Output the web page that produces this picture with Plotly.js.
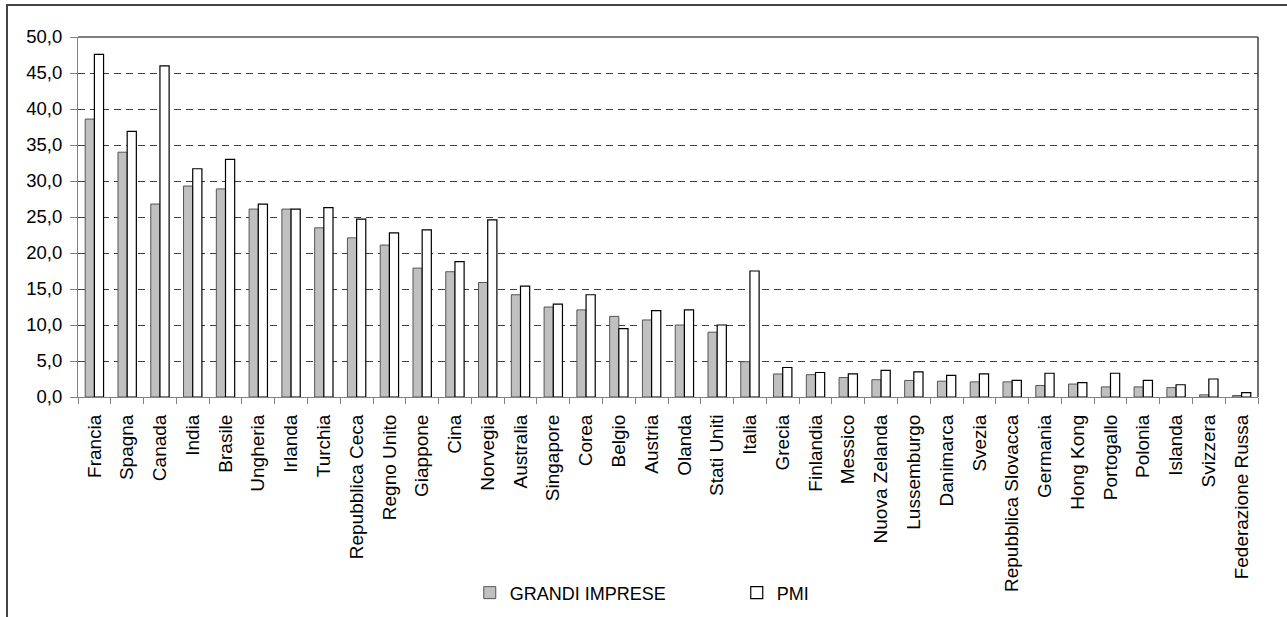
<!DOCTYPE html>
<html>
<head>
<meta charset="utf-8">
<script src="https://cdn.plot.ly/plotly-3.0.1.min.js"></script>
<style>
  html, body { margin: 0; padding: 0; background: #fff; }
  #wrap { position: relative; width: 1287px; height: 617px; overflow: hidden; }
  #frame { position: absolute; left: 6px; top: 4px; width: 1400px; height: 700px;
           border-left: 2px solid #444; border-top: 2px solid #444; pointer-events: none; }
  #chart { position: absolute; left: 0; top: 0; width: 1287px; height: 617px; }
</style>
</head>
<body>
<div id="wrap">
  <div id="chart"></div>
  <div id="frame"></div>
</div>
<script>
const categories = ["Francia","Spagna","Canada","India","Brasile","Ungheria","Irlanda","Turchia",
  "Repubblica Ceca","Regno Unito","Giappone","Cina","Norvegia","Australia","Singapore","Corea",
  "Belgio","Austria","Olanda","Stati Uniti","Italia","Grecia","Finlandia","Messico","Nuova Zelanda",
  "Lussemburgo","Danimarca","Svezia","Repubblica Slovacca","Germania","Hong Kong","Portogallo",
  "Polonia","Islanda","Svizzera","Federazione Russa"];

const grandiImprese = [38.6,34.0,26.8,29.3,28.9,26.1,26.1,23.5,
  22.1,21.1,17.9,17.4,15.9,14.2,12.5,12.1,
  11.2,10.7,10.0,9.0,4.9,3.2,3.1,2.7,2.4,
  2.3,2.2,2.1,2.1,1.6,1.8,1.4,
  1.4,1.3,0.3,0.2];

const pmi = [47.6,36.9,46.0,31.7,33.0,26.8,26.1,26.3,
  24.7,22.8,23.2,18.8,24.6,15.4,12.9,14.2,
  9.5,12.0,12.1,10.0,17.5,4.1,3.4,3.2,3.7,
  3.5,3.0,3.2,2.3,3.3,2.0,3.3,
  2.3,1.7,2.5,0.6];

const yTicks = [0,5,10,15,20,25,30,35,40,45,50];

const FONT = "Liberation Sans, Arial, sans-serif";

const traces = [
  {
    type: "bar", name: "GRANDI IMPRESE", x: categories, y: grandiImprese,
    marker: { color: "#c0c0c0", line: { color: "#555555", width: 1 } },
    hoverinfo: "x+y"
  },
  {
    type: "bar", name: "PMI", x: categories, y: pmi,
    marker: { color: "#ffffff", line: { color: "#000000", width: 1.2 } },
    hoverinfo: "x+y"
  }
];

const layout = {
  width: 1287, height: 617,
  margin: { l: 78, r: 29, t: 37, b: 219.5, pad: 0, autoexpand: false },
  paper_bgcolor: "rgba(0,0,0,0)",
  plot_bgcolor: "#ffffff",
  barmode: "group",
  bargap: 0.44,
  bargroupgap: 0,
  separators: ",.",
  font: { family: FONT, color: "#000000", size: 18 },
  showlegend: true,
  legend: {
    orientation: "h",
    xref: "container", yref: "container",
    x: 0.365, xanchor: "left",
    y: 0.039, yanchor: "middle",
    font: { family: FONT, size: 18, color: "#000" },
    entrywidth: 222,
    bgcolor: "rgba(0,0,0,0)",
    traceorder: "normal"
  },
  xaxis: {
    type: "category",
    tickangle: -90,
    tickfont: { family: FONT, size: 19, color: "#000" },
    showgrid: false,
    showline: true, linecolor: "#808080", linewidth: 1,
    ticks: "outside", ticklen: 6, tickcolor: "#808080", tickwidth: 1,
    tickson: "boundaries",
    ticklabelstandoff: 9,
    zeroline: false,
    automargin: false,
    fixedrange: true
  },
  yaxis: {
    range: [0, 50],
    tickvals: yTicks,
    tickformat: ".1f",
    tickfont: { family: FONT, size: 18.5, color: "#000" },
    showgrid: true, gridcolor: "#404040", gridwidth: 1, griddash: "7px,5px",
    showline: true, linecolor: "#808080", linewidth: 1,
    ticks: "outside", ticklen: 7, tickcolor: "#808080", tickwidth: 1,
    ticklabelstandoff: 4,
    zeroline: false,
    automargin: false,
    fixedrange: true
  },
  shapes: [
    { type: "line", xref: "paper", yref: "paper", x0: 0, x1: 1, y0: 1, y1: 1,
      line: { color: "#000000", width: 1 } },
    { type: "line", xref: "paper", yref: "paper", x0: 1, x1: 1, y0: 0, y1: 1,
      line: { color: "#222222", width: 1.3 } }
  ]
};

Plotly.newPlot("chart", traces, layout, { staticPlot: true, displayModeBar: false });
</script>
</body>
</html>
